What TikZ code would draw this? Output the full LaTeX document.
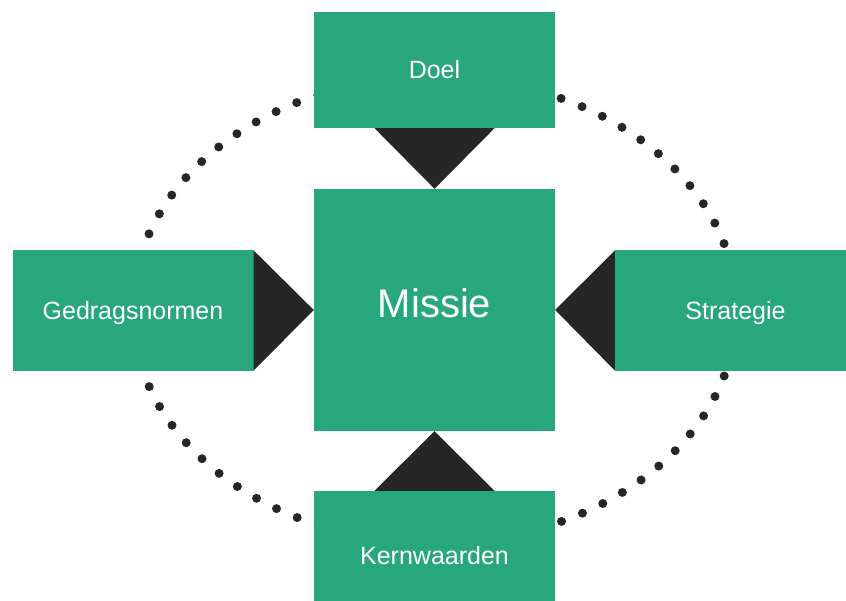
\documentclass[tikz,border=0pt]{standalone}
\usepackage{fontspec}
\setmainfont{Liberation Sans}
\usepackage{tikz}
\usetikzlibrary{positioning}

\definecolor{boxgreen}{HTML}{27A77B}
\definecolor{tipdark}{HTML}{262626}

\begin{document}
\begin{tikzpicture}[x=1pt, y=-1pt,
    box/.style={fill=boxgreen, text=white, inner sep=0pt, minimum width=241pt,
      text height=18pt, text depth=0pt, font=\fontsize{25}{30}\selectfont},
    tip/.style={fill=tipdark},
    dots/.style={draw=tipdark, line width=9pt, line cap=round, dash pattern=on 0pt off 22.5pt}]
    \useasboundingbox (0,0) rectangle (846,601);
    \draw[dots] (434.5,310) ellipse [x radius=302, y radius=233];
    \node[box, minimum height=242pt, text height=29pt, text depth=13pt,
      font=\fontsize{40}{48}\selectfont] (missie) at (434.5,310) {Missie};
    \node[box, minimum height=116pt] (doel) at (434.5,70) {Doel};
    \node[box, minimum height=128pt] (kern) at (434.5,555) {Kernwaarden};
    \node[box, minimum height=121pt] (gedrag) at (133,310.5) {Gedragsnormen};
    \node[box, minimum height=121pt] (strat) at (735.5,310.5) {Strategie};
    \fill[tip] ([xshift=-60pt]doel.south) -- ([xshift=60pt]doel.south) -- (missie.north) -- cycle;
    \fill[tip] ([xshift=-60pt]kern.north) -- ([xshift=60pt]kern.north) -- (missie.south) -- cycle;
    \fill[tip] ([yshift=-60pt]gedrag.east) -- ([yshift=60pt]gedrag.east) -- (missie.west) -- cycle;
    \fill[tip] ([yshift=-60pt]strat.west) -- ([yshift=60pt]strat.west) -- (missie.east) -- cycle;
\end{tikzpicture}
\end{document}
